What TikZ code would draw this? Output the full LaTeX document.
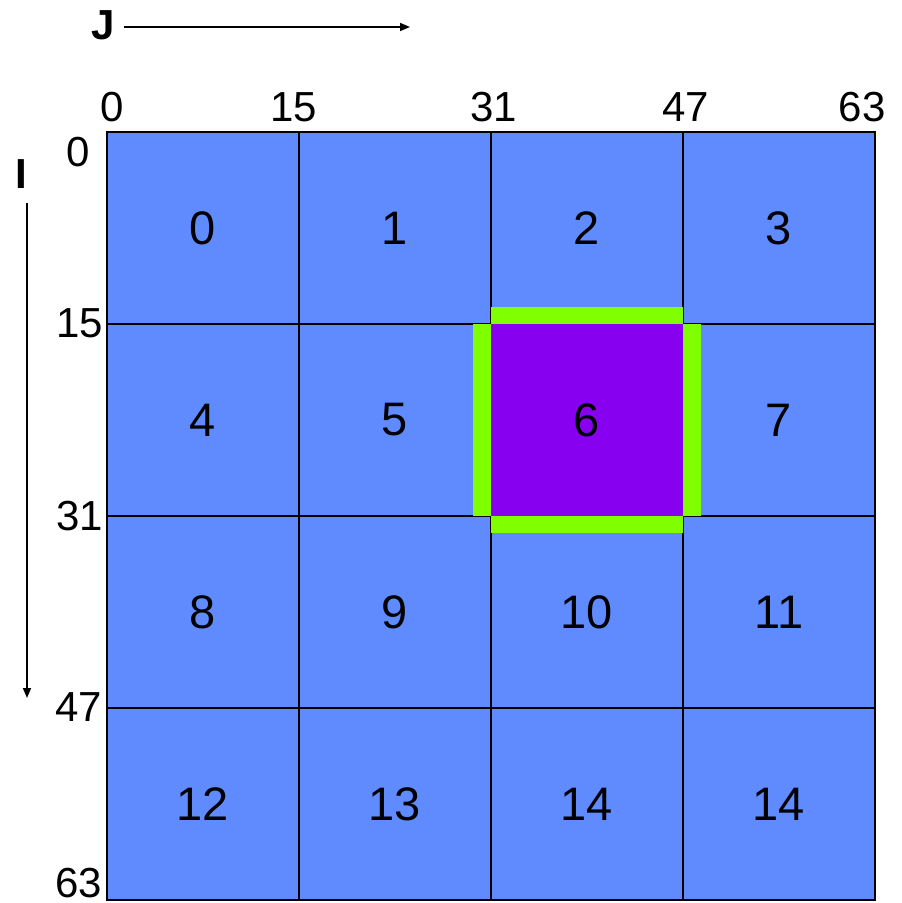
\documentclass[tikz,border=0pt]{standalone}
\usepackage{fontspec}
\setmainfont{Liberation Sans}
\usetikzlibrary{arrows.meta}
\definecolor{cellblue}{HTML}{608BFF}
\definecolor{cellpurple}{HTML}{8800F0}
\definecolor{hlgreen}{HTML}{80FF00}
\tikzset{
  cell/.style={draw=black, line width=2pt, fill=cellblue, minimum width=192pt, minimum height=192pt, inner sep=0pt, font=\fontsize{47}{47}\selectfont},
  hicell/.style={cell, draw=none, fill=cellpurple},
  tick/.style={font=\fontsize{42}{42}\selectfont, inner sep=0pt},
  axis/.style={font=\bfseries\fontsize{42}{42}\selectfont, inner sep=0pt},
  axarrow/.style={line width=1.5pt, -{Triangle[length=10pt,width=8pt]}},
  bar/.style={fill=hlgreen, draw=none}
}
\begin{document}
\begin{tikzpicture}[x=1pt,y=-1pt]
\useasboundingbox (0,0) rectangle (902,903);
% cells
\foreach \r/\y in {0/228,1/420,2/612,3/804}{
  \foreach \c/\x in {0/203,1/395,2/587,3/779}{
    \pgfmathtruncatemacro{\n}{\r*4+\c}
    \ifnum\n=15 \def\lbl{14}\else\edef\lbl{\n}\fi
    \ifnum\n=6
    \else
      \node[cell] (c\n) at (\x,\y) {\lbl};
    \fi
  }
}
% highlighted cell
\fill[bar] (491,307) rectangle (683,324);
\fill[bar] (491,516) rectangle (683,533);
\fill[bar] (473,324) rectangle (491,516);
\fill[bar] (683,324) rectangle (701,516);
\node[hicell] (c6) at (587,420) {6};
% top ticks
\node[tick, anchor=base] (t0) at (112,121) {0};
\node[tick, anchor=base] (t15) at (294,121) {15};
\node[tick, anchor=base] (t31) at (494,121) {31};
\node[tick, anchor=base] (t47) at (686,121) {47};
\node[tick, anchor=base] (t63) at (862,121) {63};
% left ticks
\node[tick, anchor=east] (l0) at (90,152) {0};
\node[tick, anchor=east] (l15) at (103,323) {15};
\node[tick, anchor=east] (l31) at (103,516) {31};
\node[tick, anchor=east] (l47) at (102,707) {47};
\node[tick, anchor=east] (l63) at (102,883) {63};
% axes
\node[axis] (J) at (103,25) {J};
\coordinate (jend) at (410,27);
\draw[axarrow] (J.east) ++(9,2) coordinate (jstart) -- (jend);
\node[axis] (I) at (21,174) {I};
\coordinate (istart) at (27,203);
\coordinate (iend) at (27,698);
\draw[axarrow] (istart) -- (iend);
\end{tikzpicture}
\end{document}
